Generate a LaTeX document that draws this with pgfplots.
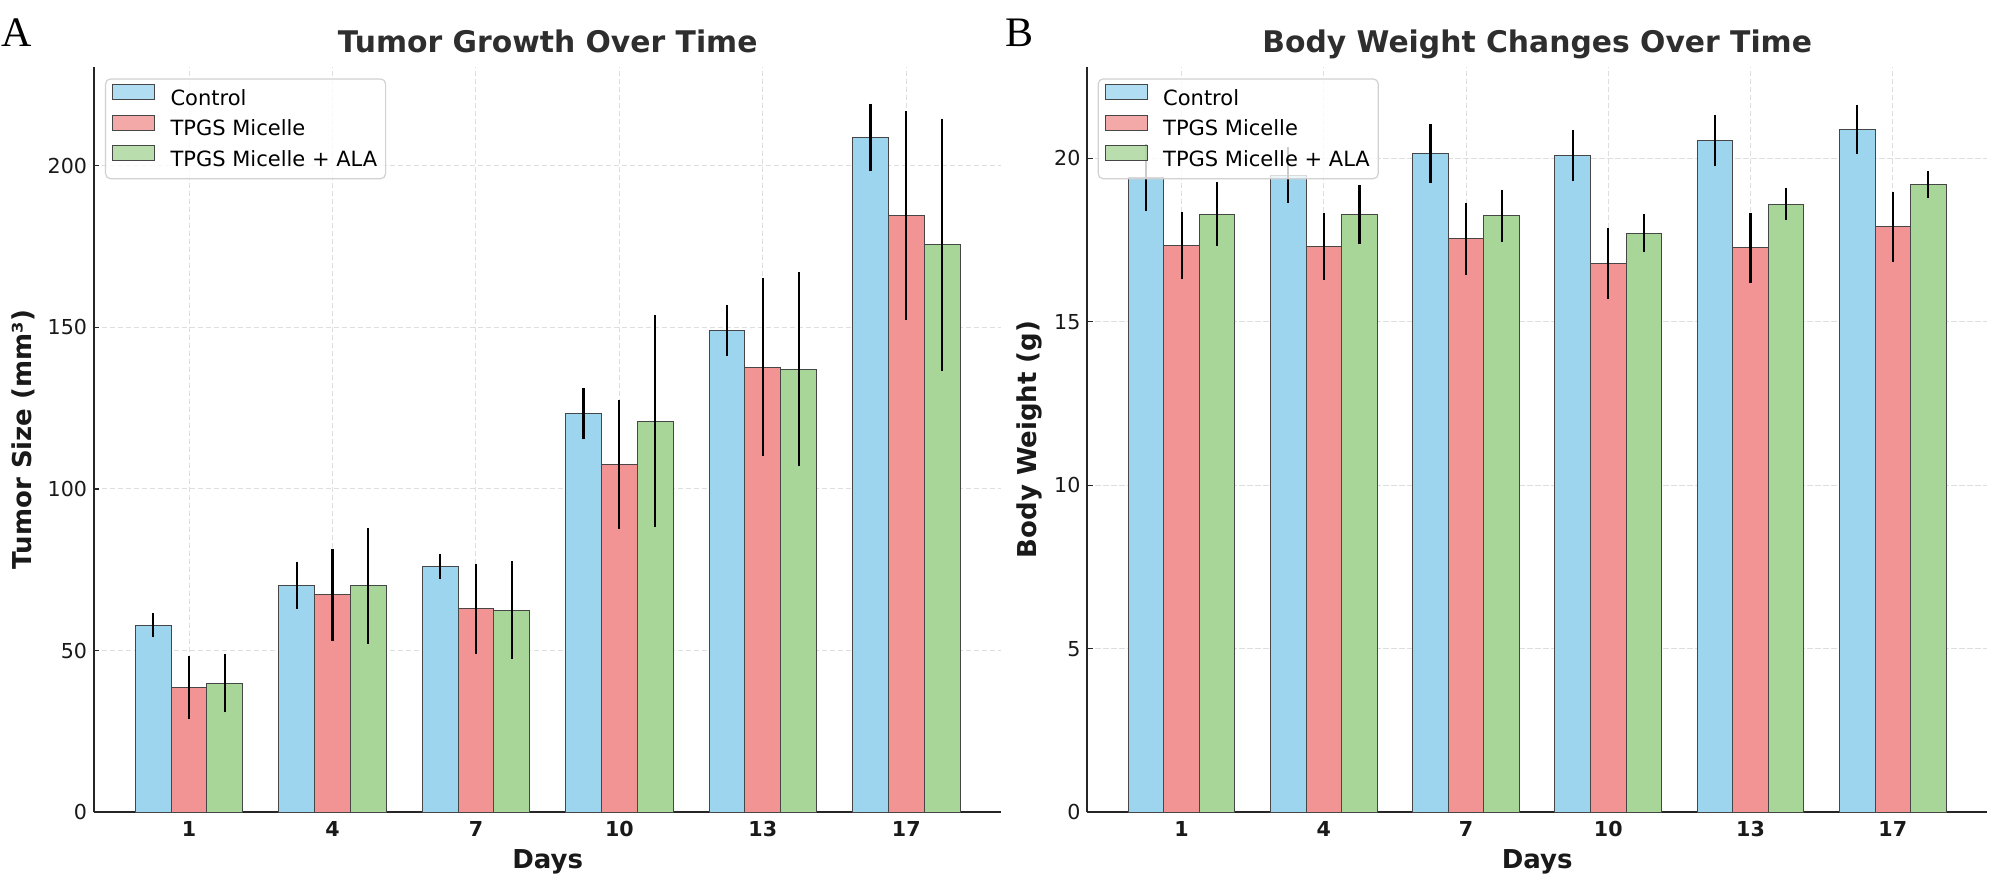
\documentclass[border=0pt]{standalone}
\usepackage{pgfplots}
\pgfplotsset{compat=1.18}
\usepackage{pgfplotstable}
\usepackage{fontspec}
\setmainfont{DejaVu Sans}
\newfontfamily\panelfont{Liberation Serif}

\definecolor{cCtrl}{RGB}{157,213,238}
\definecolor{cTpgs}{RGB}{242,148,148}
\definecolor{cAla}{RGB}{168,214,152}
\definecolor{cEdge}{RGB}{70,70,70}

% Tumor size (mm^3): mean and SD per group, days 1, 4, 7, 10, 13, 17
\pgfplotstableread{
d ctrl ctrlE tpgs tpgsE ala alaE
0 57.8  3.7  38.6  9.7  39.9  9.0
1 70.2  7.3  67.3  14.2 70.0  18.0
2 76.0  3.9  62.9  13.8 62.5  15.1
3 123.3 8.0  107.6 20.0 121.0 32.8
4 149.0 8.0  137.6 27.5 137.1 30.0
5 208.7 10.5 184.5 32.3 175.5 39.0
}\tumor

% Body weight (g): mean and SD per group
\pgfplotstableread{
d ctrl ctrlE tpgs tpgsE ala alaE
0 19.42 1.03 17.33 1.03 18.29 0.97
1 19.48 0.85 17.31 1.03 18.29 0.90
2 20.14 0.90 17.54 1.10 18.24 0.80
3 20.08 0.79 16.78 1.08 17.71 0.59
4 20.54 0.78 17.26 1.07 18.60 0.50
5 20.89 0.75 17.90 1.07 19.20 0.42
}\weight

\pgfplotsset{
  panel/.style={
    scale only axis,
    height=372.8bp,
    xmin=-0.6625, xmax=5.6625,
    ymin=0,
    axis x line*=bottom,
    axis y line*=left,
    axis line style={-, line width=1bp, black!85},
    tick align=inside,
    major tick length=2.6bp,
    tick style={line width=0.6bp, black!85},
    xtick={0,...,5},
    xticklabels={1,4,7,10,13,17},
    /pgf/number format/assume math mode=true,
    ticklabel style={font=\fontsize{10.3bp}{12bp}\selectfont, black!90},
    xticklabel style={font=\fontsize{10.3bp}{12bp}\selectfont\bfseries, anchor=base, yshift=-12.2bp},
    yticklabel style={anchor=east, inner sep=0pt, xshift=-3.3bp},
    grid=major,
    grid style={dash pattern=on 2.6bp off 1.4bp, line width=0.5bp, black!13},
    every axis title shift=0pt,
    title style={at={(0.5,1)}, anchor=base, yshift=7.3bp,
      font=\fontsize{14.9bp}{17bp}\selectfont\bfseries, black!82},
    xlabel={Days},
    xlabel style={at={(0.5,0)}, anchor=base, yshift=-27.85bp,
      font=\fontsize{13bp}{15bp}\selectfont\bfseries, black!90},
    ylabel style={font=\fontsize{13bp}{15bp}\selectfont\bfseries, black!90, anchor=base},
    every axis plot/.append style={ybar, bar width=0.25, bar shift=0pt,
      draw=cEdge, line width=0.5bp},
    error bars/y dir=both,
    error bars/y explicit,
    error bars/error mark=none,
    error bars/error bar style={line width=1.1bp, black},
    legend image code/.code={\draw[#1, sharp corners] (0bp,0.1bp) rectangle (21bp,7.6bp);},
    legend cell align=left,
    legend style={
      anchor=north west,
      draw=black!18, line width=0.6bp, rounded corners=2.5bp,
      fill=white, fill opacity=0.8, draw opacity=1, text opacity=1,
      font=\fontsize{10.5bp}{12.5bp}\selectfont,
      inner xsep=3.2bp, inner ysep=2.6bp,
      row sep=1.2bp,
      nodes={inner sep=1bp, text height=8bp, text depth=2.5bp},
      /tikz/every odd column/.append style={column sep=6.8bp},
    },
  },
}

\begin{document}
\begin{tikzpicture}
\useasboundingbox (0,0) rectangle (1004bp,443bp);

% Panel A: tumour growth
\begin{axis}[panel,
  at={(47bp,36.85bp)}, anchor=south west,
  width=453.65bp,
  ymax=230.6,
  ytick={0,50,100,150,200},
  title={Tumor Growth Over Time},
  ylabel={Tumor Size (mm³)},
  ylabel style={at={([xshift=-31.2bp]axis description cs:0,0.5)}},
  legend style={at={(0.0121,0.9844)}},
]
\addplot[fill=cCtrl] table[x expr=\thisrow{d}-0.25, y=ctrl, y error=ctrlE]{\tumor};
\addplot[fill=cTpgs] table[x expr=\thisrow{d},      y=tpgs, y error=tpgsE]{\tumor};
\addplot[fill=cAla]  table[x expr=\thisrow{d}+0.25, y=ala,  y error=alaE]{\tumor};
\legend{Control, TPGS Micelle, TPGS Micelle + ALA}
\end{axis}

% Panel B: body weight
\begin{axis}[panel,
  at={(543.7bp,36.85bp)}, anchor=south west,
  width=449.8bp,
  ymax=22.8,
  ytick={0,5,10,15,20},
  title={Body Weight Changes Over Time},
  ylabel={Body Weight (g)},
  ylabel style={at={([xshift=-25.5bp]axis description cs:0,0.5)}},
  legend style={at={(0.0113,0.9844)}},
]
\addplot[fill=cCtrl] table[x expr=\thisrow{d}-0.25, y=ctrl, y error=ctrlE]{\weight};
\addplot[fill=cTpgs] table[x expr=\thisrow{d},      y=tpgs, y error=tpgsE]{\weight};
\addplot[fill=cAla]  table[x expr=\thisrow{d}+0.25, y=ala,  y error=alaE]{\weight};
\legend{Control, TPGS Micelle, TPGS Micelle + ALA}
\end{axis}

\node[anchor=base west, inner sep=0pt, font=\panelfont\fontsize{21bp}{24bp}\selectfont]
  at (0.4bp,419.5bp) {A};
\node[anchor=base west, inner sep=0pt, font=\panelfont\fontsize{21bp}{24bp}\selectfont]
  at (502.6bp,419.5bp) {B};
\end{tikzpicture}
\end{document}
